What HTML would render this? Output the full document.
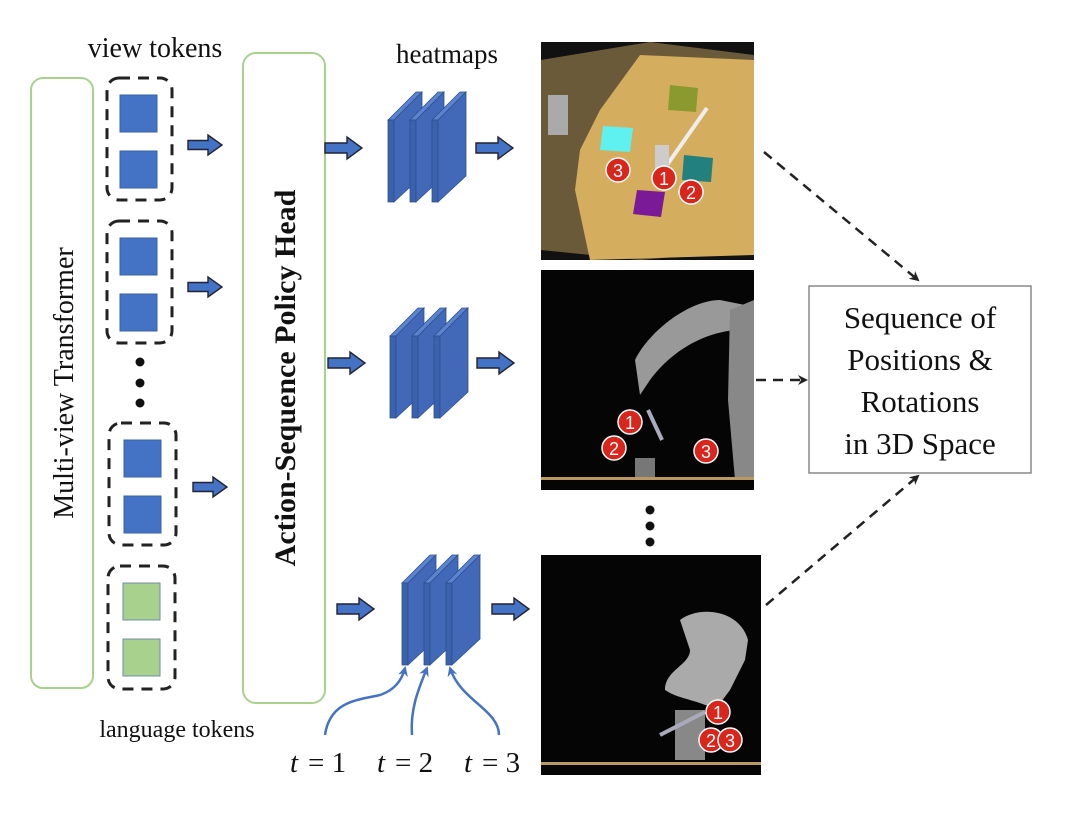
<!DOCTYPE html>
<html><head><meta charset="utf-8"><style>
html,body{margin:0;padding:0;background:#fff;}
svg{display:block;}
text{font-family:"Liberation Serif",serif;fill:#111;}
</style></head><body>
<svg width="1080" height="834" viewBox="0 0 1080 834" xmlns="http://www.w3.org/2000/svg">
<defs>
<marker id="ah" markerWidth="10" markerHeight="10" refX="8" refY="5" orient="auto" markerUnits="userSpaceOnUse">
<path d="M0,0 L10,5 L0,10 L3,5 z" fill="#222"/></marker>
<marker id="bh" markerWidth="10" markerHeight="10" refX="8" refY="5" orient="auto" markerUnits="userSpaceOnUse">
<path d="M0,0 L10,5 L0,10 L3,5 z" fill="#4472c4"/></marker>
<g id="barrow"><path d="M0,-5 L22,-5 L22,-11 L37,0 L22,11 L22,5 L0,5 z" fill="#4472c4" stroke="#223" stroke-width="1.4"/></g>
<g id="sarrow"><path d="M0,-4.5 L20,-4.5 L20,-10 L34,0 L20,10 L20,4.5 L0,4.5 z" fill="#4472c4" stroke="#223" stroke-width="1.4"/></g>
<g id="plate">
<polygon points="0,28 28,0 34,0 6,28" fill="#5b84d0" stroke="#2f4f8f" stroke-width="0.8"/>
<polygon points="0,28 6,28 6,110 0,110" fill="#3a62ad" stroke="#2f4f8f" stroke-width="0.8"/>
<polygon points="6,28 34,0 34,84 6,110" fill="#4169b8" stroke="#2f4f8f" stroke-width="0.8"/>
</g>
<g id="stack"><use href="#plate" x="0"/><use href="#plate" x="22"/><use href="#plate" x="44"/></g>
<g id="sq"><rect width="37" height="37" fill="#4472c4" stroke="#3a62a8" stroke-width="1"/></g>
<g id="gq"><rect width="37" height="37" fill="#a9d18e" stroke="#6f8ca8" stroke-width="1"/></g>
<g id="badge"><circle r="12" fill="#d9261c" stroke="#fff" stroke-width="1.5"/></g>
</defs>

<rect x="31" y="78" width="62" height="610" rx="12" fill="none" stroke="#a9d18e" stroke-width="2"/>
<text transform="translate(73,383) rotate(-90)" font-size="28" text-anchor="middle">Multi-view Transformer</text>

<text x="155" y="57" font-size="28" text-anchor="middle">view tokens</text>

<rect x="107" y="78" width="65" height="122" rx="12" fill="none" stroke="#222" stroke-width="3" stroke-dasharray="11,8"/>
<use href="#sq" x="120" y="95"/><use href="#sq" x="120" y="151"/>
<rect x="107" y="221" width="65" height="122" rx="12" fill="none" stroke="#222" stroke-width="3" stroke-dasharray="11,8"/>
<use href="#sq" x="120" y="238"/><use href="#sq" x="120" y="294"/>
<circle cx="140" cy="362" r="4.5" fill="#111"/><circle cx="140" cy="383" r="4.5" fill="#111"/><circle cx="140" cy="403" r="4.5" fill="#111"/>
<rect x="109" y="423" width="67" height="122" rx="12" fill="none" stroke="#222" stroke-width="3" stroke-dasharray="11,8"/>
<use href="#sq" x="124" y="440"/><use href="#sq" x="124" y="496"/>
<rect x="108" y="566" width="67" height="123" rx="12" fill="none" stroke="#222" stroke-width="3" stroke-dasharray="11,8"/>
<use href="#gq" x="123" y="583"/><use href="#gq" x="123" y="639"/>

<text x="177" y="737" font-size="24" text-anchor="middle">language tokens</text>

<use href="#sarrow" x="188" y="145"/>
<use href="#sarrow" x="188" y="287"/>
<use href="#sarrow" x="193" y="487"/>

<rect x="243" y="53" width="82" height="650" rx="13" fill="none" stroke="#a9d18e" stroke-width="2"/>
<text transform="translate(295,378) rotate(-90)" font-size="30" font-weight="bold" text-anchor="middle">Action-Sequence Policy Head</text>

<text x="447" y="63" font-size="27" text-anchor="middle">heatmaps</text>

<use href="#barrow" x="325" y="148"/>
<use href="#barrow" x="328" y="363"/>
<use href="#barrow" x="337" y="609"/>

<use href="#stack" x="388" y="92"/>
<use href="#stack" x="390" y="308"/>
<use href="#stack" x="402" y="555"/>

<use href="#barrow" x="476" y="148"/>
<use href="#barrow" x="477" y="363"/>
<use href="#barrow" x="492" y="609"/>

<g fill="none" stroke="#4472c4" stroke-width="2.5">
<path d="M325,735 C330,700 360,700 380,695 C395,690 402,680 405,668" marker-end="url(#bh)"/>
<path d="M412,735 C410,710 418,690 427,668" marker-end="url(#bh)"/>
<path d="M499,735 C499,710 460,700 450,668" marker-end="url(#bh)"/>
</g>
<text x="290" y="772" font-size="29" font-style="italic">t</text><text x="308" y="772" font-size="29">= 1</text>
<text x="377" y="772" font-size="29" font-style="italic">t</text><text x="395" y="772" font-size="29">= 2</text>
<text x="464" y="772" font-size="29" font-style="italic">t</text><text x="482" y="772" font-size="29">= 3</text>

<rect x="541" y="42" width="213" height="218" fill="#111"/>
<polygon points="541,60 650,42 754,55 754,250 640,260 541,250" fill="#6b5a3a"/>
<polygon points="640,55 754,60 754,255 590,260 575,190 580,150 600,110" fill="#d4ad5e"/>
<polygon points="670,85 698,88 696,112 668,110" fill="#8a9a2e"/>
<polygon points="603,126 633,128 630,152 600,150" fill="#5ff0f0"/>
<polygon points="684,155 713,158 711,182 682,180" fill="#22807f"/>
<polygon points="637,190 665,192 661,217 633,214" fill="#7a1a96"/>
<line x1="667" y1="165" x2="707" y2="108" stroke="#eee" stroke-width="4"/>
<rect x="655" y="145" width="14" height="30" fill="#ccc"/>
<rect x="548" y="95" width="20" height="40" fill="#aaa"/>
<use href="#badge" x="618" y="170"/><text x="618" y="177" font-size="18" text-anchor="middle" style="fill:#fff;font-family:'Liberation Sans',sans-serif">3</text>
<use href="#badge" x="664" y="178"/><text x="664" y="185" font-size="18" text-anchor="middle" style="fill:#fff;font-family:'Liberation Sans',sans-serif">1</text>
<use href="#badge" x="691" y="192"/><text x="691" y="199" font-size="18" text-anchor="middle" style="fill:#fff;font-family:'Liberation Sans',sans-serif">2</text>

<rect x="541" y="270" width="213" height="220" fill="#050505"/>
<path d="M635,360 C650,330 690,300 720,300 L745,305 L740,330 C720,330 680,340 650,380 L640,395 Z" fill="#999"/>
<path d="M730,310 L754,300 L754,480 L735,480 L728,400 Z" fill="#888"/>
<line x1="648" y1="410" x2="662" y2="440" stroke="#aab" stroke-width="4"/>
<rect x="635" y="458" width="20" height="20" fill="#777"/>
<rect x="541" y="477" width="213" height="3" fill="#b89a60"/>
<use href="#badge" x="630" y="422"/><text x="630" y="429" font-size="18" text-anchor="middle" style="fill:#fff;font-family:'Liberation Sans',sans-serif">1</text>
<use href="#badge" x="614" y="448"/><text x="614" y="455" font-size="18" text-anchor="middle" style="fill:#fff;font-family:'Liberation Sans',sans-serif">2</text>
<use href="#badge" x="706" y="451"/><text x="706" y="458" font-size="18" text-anchor="middle" style="fill:#fff;font-family:'Liberation Sans',sans-serif">3</text>

<circle cx="650" cy="510" r="4.5" fill="#111"/><circle cx="650" cy="526" r="4.5" fill="#111"/><circle cx="650" cy="542" r="4.5" fill="#111"/>

<rect x="541" y="555" width="220" height="220" fill="#050505"/>
<path d="M680,620 C700,605 740,610 748,640 L745,660 L730,690 L715,710 C700,700 680,700 665,690 C665,670 690,665 690,650 Z" fill="#aaa"/>
<rect x="675" y="710" width="30" height="50" fill="#888"/>
<line x1="660" y1="735" x2="705" y2="712" stroke="#aab" stroke-width="4"/>
<rect x="541" y="762" width="220" height="3" fill="#b89a60"/>
<use href="#badge" x="718" y="712"/><text x="718" y="719" font-size="18" text-anchor="middle" style="fill:#fff;font-family:'Liberation Sans',sans-serif">1</text>
<use href="#badge" x="711" y="740"/><text x="711" y="747" font-size="18" text-anchor="middle" style="fill:#fff;font-family:'Liberation Sans',sans-serif">2</text>
<use href="#badge" x="730" y="740"/><text x="730" y="747" font-size="18" text-anchor="middle" style="fill:#fff;font-family:'Liberation Sans',sans-serif">3</text>

<rect x="809" y="286" width="222" height="187" fill="#fff" stroke="#888" stroke-width="1.5"/>
<text x="920" y="328" font-size="31" text-anchor="middle">Sequence of</text>
<text x="920" y="370" font-size="31" text-anchor="middle">Positions &amp;</text>
<text x="920" y="412" font-size="31" text-anchor="middle">Rotations</text>
<text x="920" y="454" font-size="31" text-anchor="middle">in 3D Space</text>

<g fill="none" stroke="#222" stroke-width="2.5" stroke-dasharray="10,7">
<path d="M764,152 L918,280" marker-end="url(#ah)"/>
<path d="M756,380 L806,380" marker-end="url(#ah)"/>
<path d="M766,605 L918,476" marker-end="url(#ah)"/>
</g>
</svg>
</body></html>
